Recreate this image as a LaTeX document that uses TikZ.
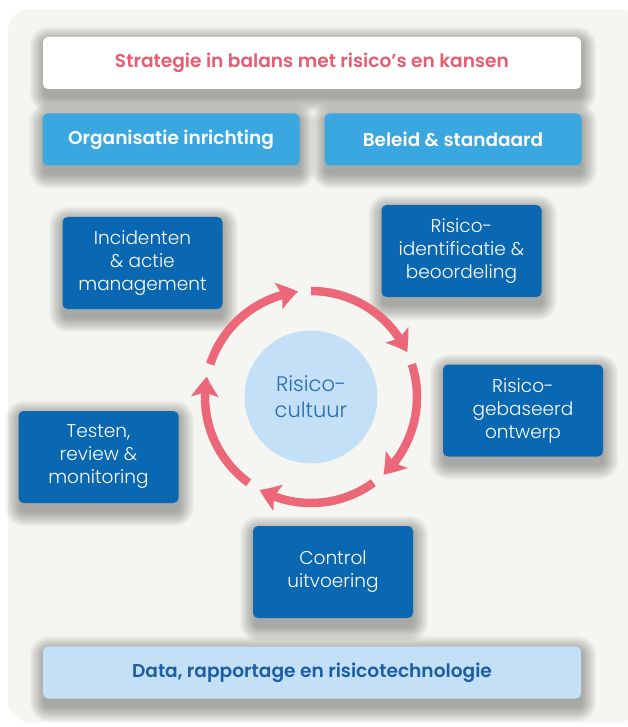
\documentclass[tikz,border=0pt]{standalone}
\usepackage{fontspec}
\setmainfont{Poppins}[UprightFont=* Light, BoldFont=* SemiBold]
\usetikzlibrary{arrows.meta,bending,calc}
\pgfdeclarelayer{back}
\pgfdeclarelayer{bg}
\pgfsetlayers{back,bg,main}
\definecolor{panel}{HTML}{F5F5F1}
\definecolor{pinkred}{HTML}{E95C70}
\definecolor{ringc}{HTML}{EC6878}
\definecolor{midblue}{HTML}{3AA7E0}
\definecolor{darkblue}{HTML}{0A67B2}
\definecolor{lightblue}{HTML}{C3E0F6}
\definecolor{datatext}{HTML}{1B5EA5}
\definecolor{circtext}{HTML}{276CB3}
\tikzset{
  basebox/.style={rounded corners=5pt, inner sep=0pt, align=center},
  widebox/.style={basebox, minimum width=538pt, minimum height=52pt,
    font=\bfseries\fontsize{18.6}{22}\selectfont},
  halfbox/.style={basebox, fill=midblue, text=white, minimum width=257pt, minimum height=52pt,
    font=\bfseries\fontsize{18.5}{22}\selectfont},
  stepbox/.style={basebox, fill=darkblue, text=white, minimum width=160pt, minimum height=92pt,
    font=\fontsize{18.5}{23}\selectfont},
  ringarc/.style={draw=ringc, line width=8.5pt,
    -{Stealth[length=20pt, width=27pt, inset=4pt, bend]}},
  shadowlayer/.style={black, opacity=0.02},
}
\newcommand\softshadow[1]{%
  \begin{pgfonlayer}{bg}
  \foreach \i in {0,...,16}{
    \pgfmathsetmacro{\rr}{5+0.9*\i}
    \pgfmathsetmacro{\dd}{0.9*\i}
    \fill[shadowlayer, rounded corners=\rr pt]
      ($(#1.south west)+(-\dd pt+1pt,-9pt-\dd pt)$) rectangle ($(#1.north east)+(\dd pt+1pt,-4pt+\dd pt)$);
  }
  \end{pgfonlayer}}
\begin{document}
\begin{tikzpicture}[x=1pt,y=1pt]
\useasboundingbox (0,0) rectangle (627,-727);
\begin{pgfonlayer}{back}
\fill[white] (0,0) rectangle (627,-727);
\fill[panel, rounded corners=22pt] (8,-9) rectangle (640,-722);
\end{pgfonlayer}

\node[widebox, fill=white, text=pinkred] (title) at (312,-63) {Strategie in balans met risico’s en kansen};
\node[halfbox] (org) at (171,-139.5) {Organisatie inrichting};
\node[halfbox] (bel) at (453,-139.5) {Beleid \& standaard};

\node[stepbox] (inc) at (142.5,-263) {Incidenten\\\& actie\\management};
\node[stepbox] (rid) at (461.5,-251) {Risico-\\identificatie \&\\beoordeling};
\node[stepbox] (rgo) at (523,-410.5) {Risico-\\gebaseerd\\ontwerp};
\node[stepbox] (tst) at (98.5,-457) {Testen,\\review \&\\monitoring};
\node[stepbox] (ctl) at (333,-572) {Control\\uitvoering};

\node[widebox, fill=lightblue, text=datatext] (data) at (312,-672.5) {Data, rapportage en risicotechnologie};

\foreach \n in {title,org,bel,inc,rid,rgo,tst,ctl,data}{\softshadow{\n}}

\node[circle, fill=lightblue, minimum size=133pt, inner sep=0pt, align=center,
  text=circtext, font=\fontsize{21}{26}\selectfont] (cult) at (311,-397) {Risico-\\cultuur};

\foreach \k in {0,...,4}{
  \pgfmathsetmacro{\sa}{90-72*\k}
  \pgfmathsetmacro{\ea}{25-72*\k}
  \draw[ringarc] ([shift={(cult.center)}]\sa:106pt) arc[start angle=\sa, end angle=\ea, radius=106pt];
}
\end{tikzpicture}
\end{document}
